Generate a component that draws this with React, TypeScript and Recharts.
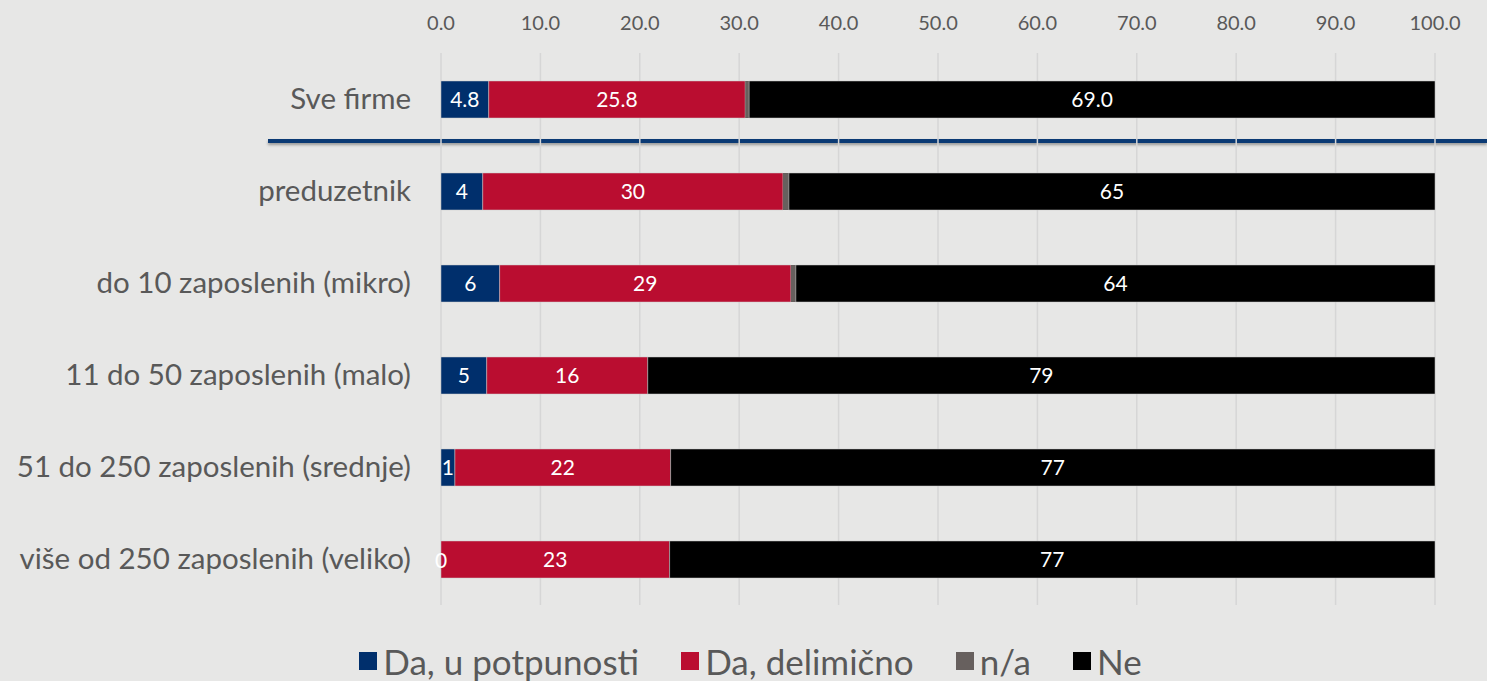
import React from "react";
import { BarChart, Bar, XAxis, YAxis, CartesianGrid, Legend, LabelList } from "recharts";

const categories = [
  "Sve firme",
  "preduzetnik",
  "do 10 zaposlenih (mikro)",
  "11 do 50 zaposlenih (malo)",
  "51 do 250 zaposlenih (srednje)",
  "više od 250 zaposlenih (veliko)",
];
const daPotpuno = [4.8, 4.2, 5.9, 4.6, 1.4, 0];
const daDelimicno = [25.8, 30.2, 29.3, 16.2, 21.7, 23.0];
const naValues = [0.4, 0.6, 0.5, 0, 0, 0];
const neValues = [69.0, 65.0, 64.3, 79.2, 76.9, 77.0];
const xTicks = [0, 10, 20, 30, 40, 50, 60, 70, 80, 90, 100];

const seriesNames = ["Da, u potpunosti", "Da, delimično", "n/a", "Ne"];
const seriesColors = ["#002f6c", "#ba0d30", "#67605e", "#000000"];

const fmt = (v: number, i: number) => (i === 0 ? v.toFixed(1) : v.toFixed(0));

const data = categories.map((c, i) => ({
  name: c,
  a: daPotpuno[i],
  b: daDelimicno[i],
  n: naValues[i],
  ne: neValues[i],
  aL: daPotpuno[i] > 0 ? fmt(daPotpuno[i], i) : null,
  aZero: daPotpuno[i] === 0 ? fmt(daPotpuno[i], i) : null,
  bL: fmt(daDelimicno[i], i),
  neL: fmt(neValues[i], i),
}));

const FONT = "Lato, 'Open Sans', sans-serif";
const TXT = "#595959";
const labelStyle = { fill: "#ffffff", fontSize: 21, fontFamily: FONT };

const LegendContent = () => (
  <div
    style={{
      display: "flex",
      justifyContent: "center",
      alignItems: "center",
      fontFamily: FONT,
      fontSize: 35,
      color: TXT,
      lineHeight: "40px",
      paddingLeft: 14,
    }}
  >
    {seriesNames.map((n, i) => (
      <div key={n} style={{ display: "flex", alignItems: "center", marginRight: i < 3 ? 42 : 0 }}>
        <span style={{ display: "inline-block", width: 18, height: 18, background: seriesColors[i], marginRight: 6 }} />
        <span>{n}</span>
      </div>
    ))}
  </div>
);

// label for a zero-width "Da, u potpunosti" segment, drawn at the start of the stack
const ZeroLabel = (props: any) => {
  const { x, y, height, value } = props;
  if (value === undefined || value === null) return null;
  return (
    <text
      x={x}
      y={y + height / 2}
      textAnchor="middle"
      dominantBaseline="central"
      fill="#ffffff"
      fontSize={21}
      fontFamily={FONT}
    >
      {value}
    </text>
  );
};

export default function App() {
  return (
    <div
      style={{
        position: "absolute",
        left: 0,
        top: 0,
        width: 1487,
        height: 681,
        background: "#e7e7e6",
        overflow: "hidden",
      }}
    >
      <div
        style={{
          position: "absolute",
          left: 268,
          top: 139,
          width: 1219,
          height: 4,
          background: "#0b3a74",
          boxShadow: "0 2px 3px rgba(0,0,0,0.35)",
        }}
      />
      <div style={{ position: "absolute", left: 0, top: 0 }}>
        <BarChart
          width={1487}
          height={681}
          data={data}
          layout="vertical"
          margin={{ top: 0, right: 52, bottom: 36, left: 0 }}
          barSize={37}
        >
          <CartesianGrid horizontal={false} stroke="#d6d6d6" strokeWidth={1.5} />
          <XAxis
            type="number"
            orientation="top"
            domain={[0, 100]}
            ticks={xTicks}
            tickFormatter={(v: number) => v.toFixed(1)}
            axisLine={false}
            tickLine={false}
            height={53}
            tickMargin={17}
            tick={{ fill: TXT, fontSize: 20, fontFamily: FONT }}
          />
          <YAxis
            type="category"
            dataKey="name"
            width={441}
            axisLine={false}
            tickLine={false}
            tickMargin={24}
            tick={{ fill: TXT, fontSize: 29.5, fontFamily: FONT }}
          />
          <Legend
            verticalAlign="bottom"
            align="center"
            content={<LegendContent />}
            wrapperStyle={{ bottom: 0, left: 0, width: 1487, height: 40 }}
          />
          <Bar dataKey="a" name={seriesNames[0]} stackId="s" fill={seriesColors[0]} stroke="#c9c9c9" strokeWidth={0.5} isAnimationActive={false}>
            <LabelList dataKey="aL" position="center" style={labelStyle} />
          </Bar>
          <Bar dataKey="b" name={seriesNames[1]} stackId="s" fill={seriesColors[1]} stroke="#c9c9c9" strokeWidth={0.5} isAnimationActive={false}>
            <LabelList dataKey="bL" position="center" style={labelStyle} />
            <LabelList dataKey="aZero" content={<ZeroLabel />} />
          </Bar>
          <Bar dataKey="n" name={seriesNames[2]} stackId="s" fill={seriesColors[2]} isAnimationActive={false} />
          <Bar dataKey="ne" name={seriesNames[3]} stackId="s" fill={seriesColors[3]} stroke="#c9c9c9" strokeWidth={0.5} isAnimationActive={false}>
            <LabelList dataKey="neL" position="center" style={labelStyle} />
          </Bar>
        </BarChart>
      </div>
    </div>
  );
}
